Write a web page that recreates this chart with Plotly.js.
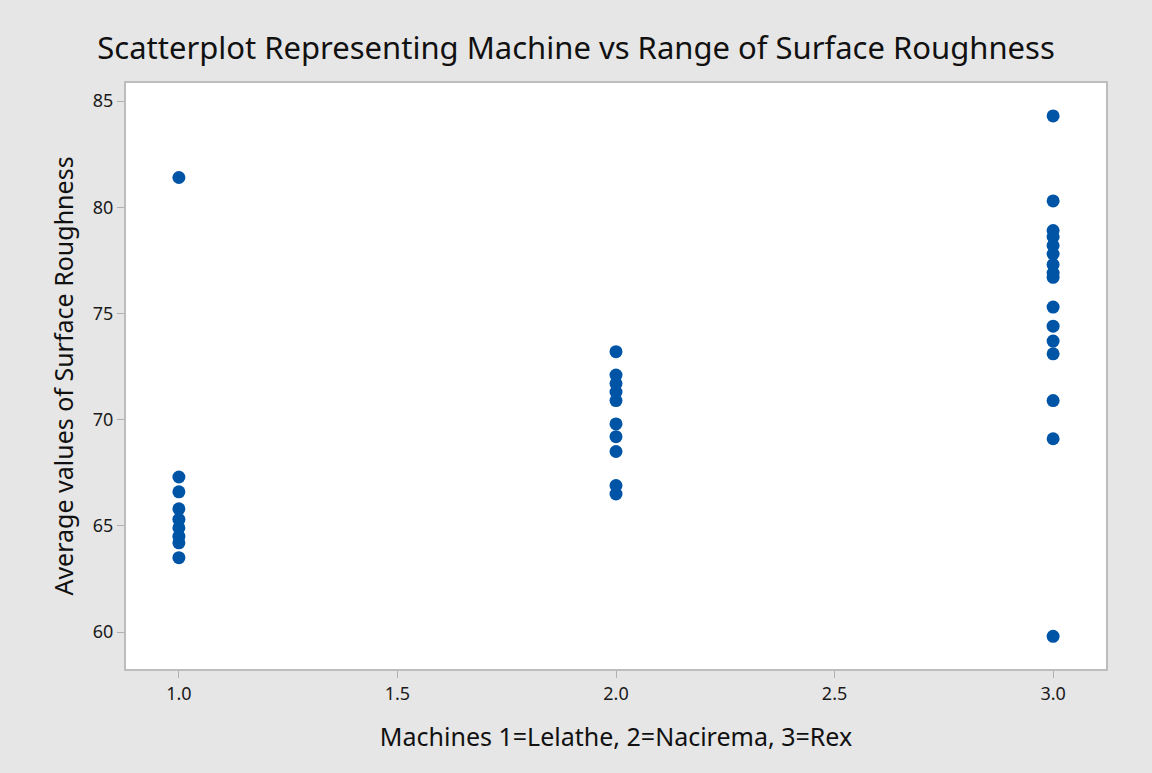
<!DOCTYPE html>
<html>
<head>
<meta charset="utf-8">
<script src="https://cdn.plot.ly/plotly-3.0.1.min.js"></script>
<style>html,body{margin:0;padding:0;background:#e6e6e6;}#chart{width:1152px;height:773px;}</style>
</head>
<body>
<div id="chart"></div>
<script>
// Machine codes: 1=Lelathe, 2=Nacirema, 3=Rex
const machine1 = [81.4, 67.3, 66.6, 65.8, 65.3, 64.9, 64.5, 64.2, 63.5];
const machine2 = [73.2, 72.1, 71.7, 71.3, 70.9, 69.8, 69.2, 68.5, 66.9, 66.5];
const machine3 = [84.3, 80.3, 78.9, 78.6, 78.2, 77.8, 77.3, 76.9, 76.7, 75.3, 74.4, 73.7, 73.1, 70.9, 69.1, 59.8];
const xTicks = [1.0, 1.5, 2.0, 2.5, 3.0];
const xTickText = ["1.0", "1.5", "2.0", "2.5", "3.0"];
const yTicks = [60, 65, 70, 75, 80, 85];

const xs = [], ys = [];
[[1, machine1], [2, machine2], [3, machine3]].forEach(([m, vals]) => {
  vals.forEach(v => { xs.push(m); ys.push(v); });
});

const trace = {
  x: xs, y: ys, type: 'scatter', mode: 'markers',
  marker: {color: '#0054a6', size: 13, line: {width: 0}},
  hoverinfo: 'x+y'
};

const FONT = 'Noto Sans, Open Sans, sans-serif';
const axisCommon = {
  showgrid: false, zeroline: false, showline: true, mirror: true,
  linecolor: '#bdbdbd', linewidth: 2,
  ticks: 'outside', ticklen: 7, tickwidth: 1, tickcolor: '#b0b0b0',
  tickfont: {family: FONT, size: 18, color: '#1a1a1a'}
};

const layout = {
  width: 1152, height: 773,
  paper_bgcolor: '#e6e6e6', plot_bgcolor: '#ffffff',
  margin: {l: 126, r: 46, t: 83, b: 104},
  showlegend: false,
  title: {text: 'Scatterplot Representing Machine vs Range of Surface Roughness',
    font: {family: FONT, size: 31, color: '#111'},
    x: 0.5, xanchor: 'center', y: 0.938, yanchor: 'middle'},
  xaxis: Object.assign({}, axisCommon, {
    range: [0.879, 3.121], tickvals: xTicks, ticktext: xTickText,
    title: {text: 'Machines 1=Lelathe, 2=Nacirema, 3=Rex', standoff: 25,
      font: {family: FONT, size: 25, color: '#111'}}
  }),
  yaxis: Object.assign({}, axisCommon, {
    range: [58.26, 85.85], tickvals: yTicks,
    title: {text: 'Average values of Surface Roughness', standoff: 12,
      font: {family: FONT, size: 25, color: '#111'}}
  })
};

Plotly.newPlot('chart', [trace], layout, {displayModeBar: false});
</script>
</body>
</html>
